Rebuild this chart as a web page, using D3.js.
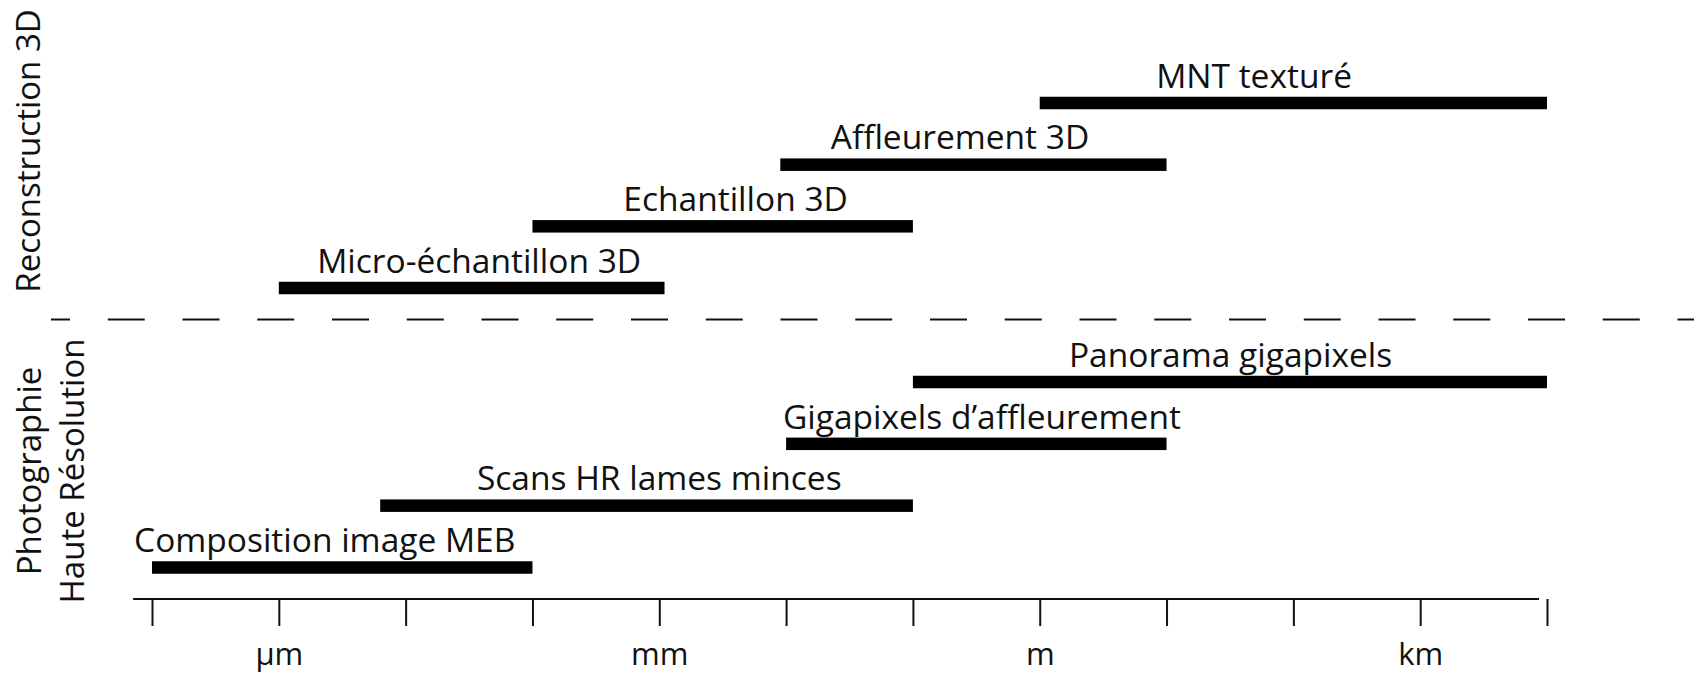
<!DOCTYPE html>
<html>
<head>
<meta charset="utf-8">
<script src="https://cdn.jsdelivr.net/npm/d3@7"></script>
<style>
  html, body { margin: 0; padding: 0; background: #fff; }
  svg { display: block; }
  text { font-family: "Open Sans", "Noto Sans", sans-serif; fill: #111; }
</style>
</head>
<body>
<svg id="chart" width="1694" height="674"></svg>
<script>
// ---- data (values in metres, log scale) ----
const topNames   = ["Micro-échantillon 3D", "Echantillon 3D", "Affleurement 3D", "MNT texturé"];
const topStart   = [1e-6, 1e-4, 0.009, 1];
const topEnd     = [1.1e-3, 0.1, 10, 1e4];
const topLabelAt = [3.8e-5, 0.004, 0.235, 49];

const botNames   = ["Composition image MEB", "Scans HR lames minces", "Gigapixels d’affleurement", "Panorama gigapixels"];
const botStart   = [1e-7, 6.3e-6, 0.01, 0.1];
const botEnd     = [1e-4, 0.1, 10, 1e4];
const botLabelAt = [2.3e-6, 1e-3, 0.35, 32];

const tickValues = [1e-7, 1e-6, 1e-5, 1e-4, 1e-3, 1e-2, 1e-1, 1, 10, 100, 1e3, 1e4];
const tickLabels = ["", "µm", "", "", "mm", "", "", "m", "", "", "km", ""];
const axisExtent = [7.1e-8, 8650];

const sectionTitles = [["Reconstruction 3D"], ["Photographie", "Haute Résolution"]];

// ---- scales ----
const svg = d3.select("#chart");
const x = d3.scaleLog().domain([1e-7, 1e4]).range([152, 1547]);
const levels = [1, 2, 3, 4];
const yTop = d3.scaleLinear().domain([1, 4]).range([288, 103]);
const yBot = d3.scaleLinear().domain([1, 4]).range([567.5, 382]);
const barH = 12.5;

function drawSection(names, starts, ends, labelAt, y) {
  const rows = names.map((n, i) => ({ name: n, s: starts[i], e: ends[i], l: labelAt[i], lev: levels[i] }));
  const g = svg.append("g");
  g.selectAll("rect").data(rows).join("rect")
    .attr("x", d => x(d.s))
    .attr("width", d => x(d.e) - x(d.s))
    .attr("y", d => y(d.lev) - barH / 2)
    .attr("height", barH)
    .attr("fill", "#000");
  g.selectAll("text").data(rows).join("text")
    .attr("x", d => x(d.l))
    .attr("y", d => y(d.lev) - barH / 2 - 9)
    .attr("text-anchor", "middle")
    .attr("font-size", 33.5)
    .text(d => d.name);
}
drawSection(topNames, topStart, topEnd, topLabelAt, yTop);
drawSection(botNames, botStart, botEnd, botLabelAt, yBot);

// ---- separator ----
svg.append("line")
  .attr("x1", 51).attr("x2", 1694)
  .attr("y1", 319.5).attr("y2", 319.5)
  .attr("stroke", "#111").attr("stroke-width", 1.8)
  .attr("stroke-dasharray", "37 37.75")
  .attr("stroke-dashoffset", 18);

// ---- axis ----
const axisY = 599;
const axis = d3.axisBottom(x)
  .tickValues(tickValues)
  .tickSize(27)
  .tickSizeOuter(0)
  .tickFormat((d, i) => tickLabels[i]);
const ag = svg.append("g").attr("transform", `translate(0,${axisY})`).call(axis);
ag.select(".domain").remove();
ag.selectAll(".tick line").attr("stroke", "#111").attr("stroke-width", 2);
ag.selectAll(".tick text")
  .attr("y", 66).attr("dy", null)
  .attr("font-size", 31)
  .attr("font-family", "Open Sans, sans-serif")
  .attr("fill", "#111");
ag.append("line")
  .attr("x1", x(axisExtent[0])).attr("x2", x(axisExtent[1]))
  .attr("y1", 0).attr("y2", 0)
  .attr("stroke", "#111").attr("stroke-width", 2);

// ---- section titles (rotated) ----
const titleCenters = [151, 471];
const titleBaselines = [[40], [41, 84]];
sectionTitles.forEach((lines, si) => {
  lines.forEach((t, li) => {
    svg.append("text")
      .attr("transform", `translate(${titleBaselines[si][li]},${titleCenters[si]}) rotate(-90)`)
      .attr("text-anchor", "middle")
      .attr("font-size", 33)
      .text(t);
  });
});
</script>
</body>
</html>
